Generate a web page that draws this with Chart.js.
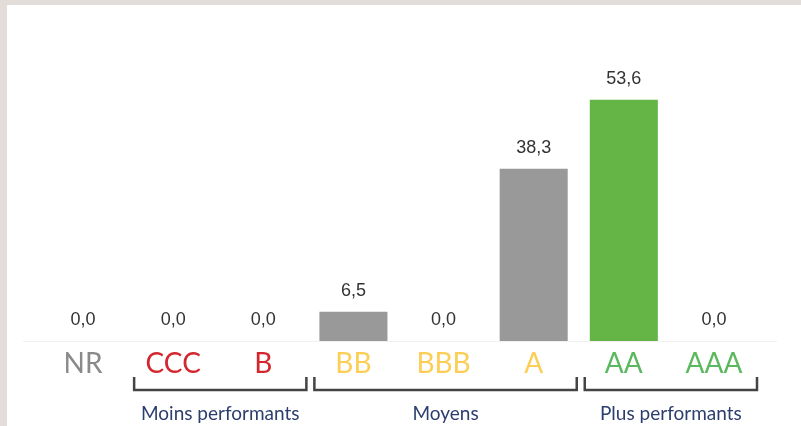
<!DOCTYPE html>
<html>
<head>
  <title>Répartition par notation</title>
  <script src="https://cdn.jsdelivr.net/npm/chart.js"></script>
  <style>
    html, body {
      margin: 0;
      padding: 0;
      background: #e2ddd8;
    }
    .frame {
      position: absolute;
      left: 7px;
      top: 5px;
      width: 794px;
      height: 421px;
      background: #fff;
    }
    #chart {
      position: absolute;
      left: 0;
      top: 0;
    }
  </style>
</head>
<body>
  <div class="frame"></div>
  <canvas id="chart" width="801" height="426"></canvas>

  <script>
    const ratings = ['NR', 'CCC', 'B', 'BB', 'BBB', 'A', 'AA', 'AAA'];
    const shares = [0.0, 0.0, 0.0, 6.5, 0.0, 38.3, 53.6, 0.0];
    const barColors = ['#999999', '#999999', '#999999', '#999999', '#999999', '#999999', '#64b446', '#999999'];
    const labelColors = ['#8a8a8a', '#d3262e', '#d3262e', '#fdce55', '#fdce55', '#fdce55', '#5cb85f', '#5cb85f'];
    const groups = [
      { name: 'Moins performants', from: 1, to: 2 },
      { name: 'Moyens', from: 3, to: 5 },
      { name: 'Plus performants', from: 6, to: 7 }
    ];

    const fmt = v => v.toFixed(1).replace('.', ',');

    const decorPlugin = {
      id: 'decor',
      beforeDatasetsDraw(chart) {
        const ctx = chart.ctx;
        const y0 = chart.scales.y.getPixelForValue(0);
        ctx.save();
        ctx.strokeStyle = '#f0f0f0';
        ctx.lineWidth = 1;
        ctx.beginPath();
        ctx.moveTo(23, Math.round(y0) + 0.5);
        ctx.lineTo(777, Math.round(y0) + 0.5);
        ctx.stroke();
        ctx.restore();
      },
      afterDatasetsDraw(chart) {
        const ctx = chart.ctx;
        const xs = chart.scales.x;
        const meta = chart.getDatasetMeta(0);
        const step = xs.getPixelForValue(1) - xs.getPixelForValue(0);
        ctx.save();

        // values above bars
        ctx.font = '18px "Liberation Sans", Arial, sans-serif';
        ctx.fillStyle = '#333';
        ctx.textAlign = 'center';
        ctx.textBaseline = 'middle';
        meta.data.forEach((bar, i) => {
          ctx.fillText(fmt(shares[i]), bar.x, bar.y - 21);
        });

        // rating labels
        ctx.font = '28px Lato';
        ratings.forEach((r, i) => {
          ctx.fillStyle = labelColors[i];
          ctx.fillText(r, xs.getPixelForValue(i), 364);
        });

        // group brackets
        ctx.strokeStyle = '#444';
        ctx.lineWidth = 2.5;
        ctx.font = '19px Lato';
        groups.forEach(g => {
          const left = xs.getPixelForValue(g.from) - step / 2 + 6;
          const right = xs.getPixelForValue(g.to) + step / 2 - 2;
          ctx.beginPath();
          ctx.moveTo(left, 377);
          ctx.lineTo(left, 390);
          ctx.lineTo(right, 390);
          ctx.lineTo(right, 377);
          ctx.stroke();
          ctx.fillStyle = '#2c3e6e';
          ctx.fillText(g.name, (left + right) / 2, 414);
        });
        ctx.restore();
      }
    };

    new Chart(document.getElementById('chart').getContext('2d'), {
      type: 'bar',
      data: {
        labels: ratings,
        datasets: [{
          data: shares,
          backgroundColor: barColors,
          barPercentage: 0.755,
          categoryPercentage: 1
        }]
      },
      options: {
        responsive: false,
        animation: false,
        layout: { padding: { left: 38, right: 42, top: 71, bottom: 85 } },
        plugins: {
          legend: { display: false },
          tooltip: { enabled: false }
        },
        scales: {
          x: { display: false },
          y: { display: false, min: 0, max: 60 }
        }
      },
      plugins: [decorPlugin]
    });
  </script>
</body>
</html>
